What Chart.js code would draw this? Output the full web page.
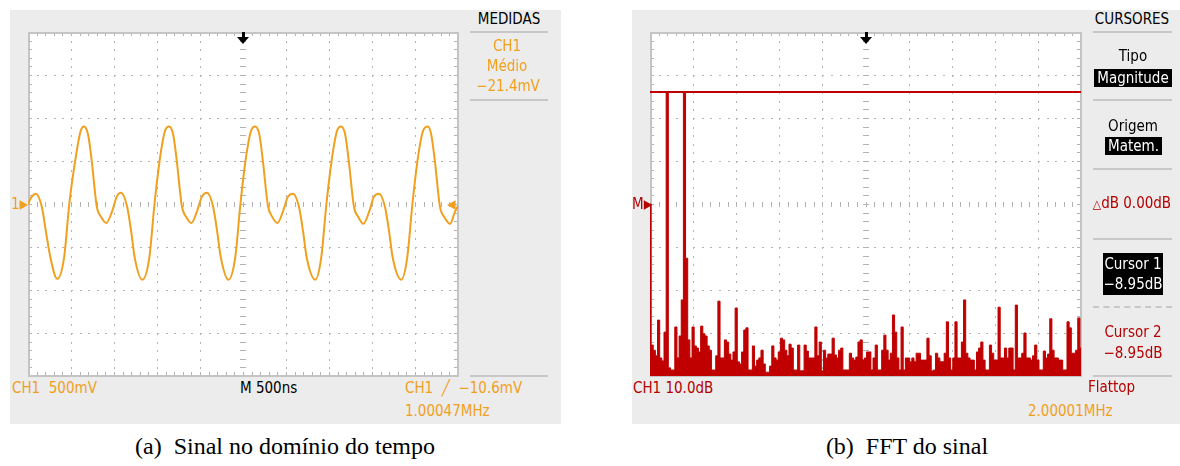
<!DOCTYPE html>
<html lang="pt">
<head>
<meta charset="UTF-8">
<script src="https://cdn.jsdelivr.net/npm/chart.js"></script>
<title>Sinal e FFT</title>
<style>
  body { margin: 0; width: 1180px; height: 466px; overflow: hidden; background: #fff; position: relative; }
  .panel { position: absolute; top: 10px; height: 414px; background: #ececec; }
  canvas { position: absolute; background: #fff; }
  .t { position: absolute; font-family: 'DejaVu Sans Condensed', 'DejaVu Sans', sans-serif; font-stretch: condensed;
       font-size: 15px; line-height: 16px; white-space: nowrap; }
  .c { text-align: center; }
  .or { color: #f0a01e; }
  .rd { color: #b40000; }
  .hr { position: absolute; height: 2px; background: #c8c8c8; }
  .box { position: absolute; background: #000; color: #fff; text-align: center; }
  .trig { position: absolute; width: 12px; height: 12px; }
  .trig:before { content: ''; position: absolute; left: 5px; top: 0; width: 3px; height: 6px; background: #000; }
  .trig:after { content: ''; position: absolute; left: 0; top: 5px; border-left: 6px solid transparent;
                border-right: 6px solid transparent; border-top: 7px solid #000; }
  .cap { position: absolute; width: 500px; text-align: center; font-family: 'Liberation Serif', serif;
         font-size: 24px; line-height: 26px; color: #000; }
  .arr { font-size: 19px; vertical-align: -1px; }
</style>
</head>
<body>
<div class="panel" style="left:10px;width:551px"></div>
<div class="panel" style="left:632px;width:551px"></div>

<canvas id="scope" width="431" height="345" style="left:28px;top:32px"></canvas>
<canvas id="fft" width="432" height="345" style="left:650px;top:32px"></canvas>

<!-- painel (a) -->
<div class="t c" style="left:449px;width:120px;top:11px">MEDIDAS</div>
<div class="hr" style="left:470px;width:78px;top:31px"></div>
<div class="t c or" style="left:447px;width:120px;top:38px">CH1</div>
<div class="t c or" style="left:447px;width:120px;top:58px">Médio</div>
<div class="t c or" style="left:448px;width:120px;top:78px">−21.4mV</div>
<div class="hr" style="left:470px;width:78px;top:99px"></div>
<div class="hr" style="left:470px;width:78px;top:375px"></div>
<div class="t or" style="left:12px;top:380px">CH1&nbsp;&nbsp;500mV</div>
<div class="t" style="left:240px;top:380px">M 500ns</div>
<div class="t or" style="left:405px;top:380px">CH1&nbsp;&nbsp;╱&nbsp;&nbsp;−10.6mV</div>
<div class="t or" style="left:405px;top:403px">1.00047MHz</div>
<div class="t or" style="left:11px;top:195px">1<span class="arr">▸</span></div>
<div class="t or" style="left:447px;top:195px"><span class="arr">◂</span></div>
<div class="trig" style="left:237px;top:32px"></div>

<!-- painel (b) -->
<div class="t c" style="left:1072px;width:120px;top:11px">CURSORES</div>
<div class="hr" style="left:1093px;width:79px;top:31px"></div>
<div class="t c" style="left:1073px;width:120px;top:48px">Tipo</div>
<div class="box t" style="left:1094px;width:78px;top:69px;height:18px;line-height:18px">Magnitude</div>
<div class="hr" style="left:1093px;width:79px;top:99px"></div>
<div class="t c" style="left:1073px;width:120px;top:118px">Origem</div>
<div class="box t" style="left:1105px;width:57px;top:137px;height:18px;line-height:18px">Matem.</div>
<div class="hr" style="left:1093px;width:79px;top:168px"></div>
<div class="t c rd" style="left:1072px;width:120px;top:195px"><span style="font-size:12px">△</span>dB 0.00dB</div>
<div class="hr" style="left:1093px;width:79px;top:238px"></div>
<div class="box t" style="left:1103px;width:60px;top:253px;height:42px;line-height:20px;padding-top:1px;box-sizing:border-box">Cursor 1<br>−8.95dB</div>
<div style="position:absolute;left:1093px;width:79px;top:306px;border-top:2px dashed #c8c8c8"></div>
<div class="t c rd" style="left:1073px;width:120px;top:324px">Cursor 2</div>
<div class="t c rd" style="left:1073px;width:120px;top:345px">−8.95dB</div>
<div class="hr" style="left:1093px;width:79px;top:375px"></div>
<div class="t rd" style="left:1088px;top:379px">Flattop</div>
<div class="t or" style="left:1028px;top:403px">2.00001MHz</div>
<div class="t rd" style="left:633px;top:380px">CH1 10.0dB</div>
<div class="t rd" style="left:632px;top:195px">M<span class="arr">▸</span></div>
<div class="trig" style="left:860px;top:32px"></div>

<div class="cap" style="left:35px;top:433px">(a)&nbsp; Sinal no domínio do tempo</div>
<div class="cap" style="left:657px;top:433px">(b)&nbsp; FFT do sinal</div>

<script>
// CH1, 500 mV/div, 500 ns/div
const timeUs = [
  0.00, 0.04,
  0.09, 0.16, 0.21, 0.26, 0.34, 0.42, 0.48, 0.55, 0.61, 0.65, 0.70, 0.74, 0.80, 0.85, 0.91, 0.98, 1.03,
  1.08, 1.15, 1.20, 1.24, 1.33, 1.41, 1.47, 1.53, 1.59, 1.64, 1.69, 1.73, 1.79, 1.84, 1.90, 1.97, 2.02,
  2.08, 2.15, 2.20, 2.24, 2.33, 2.41, 2.47, 2.53, 2.59, 2.64, 2.69, 2.73, 2.79, 2.84, 2.90, 2.97, 3.02,
  3.08, 3.15, 3.20, 3.24, 3.34, 3.41, 3.47, 3.53, 3.59, 3.64, 3.69, 3.73, 3.79, 3.84, 3.90, 3.97, 4.02,
  4.08, 4.15, 4.20, 4.24, 4.34, 4.41, 4.47, 4.53, 4.59, 4.65, 4.69, 4.73, 4.79, 4.84, 4.91, 4.96, 5.00
];
const ch1Volts = [
  0.00, 0.08,
  0.12, -0.03, -0.33, -0.62, -0.87, -0.62, 0.00, 0.51, 0.84, 0.90, 0.80, 0.51, -0.03, -0.15, -0.22, -0.08, 0.08,
  0.13, -0.02, -0.32, -0.62, -0.88, -0.63, -0.01, 0.50, 0.84, 0.90, 0.80, 0.50, -0.03, -0.15, -0.22, -0.07, 0.08,
  0.13, -0.02, -0.32, -0.61, -0.88, -0.62, 0.00, 0.51, 0.84, 0.90, 0.81, 0.51, -0.02, -0.15, -0.22, -0.07, 0.08,
  0.12, -0.03, -0.33, -0.62, -0.88, -0.62, 0.00, 0.50, 0.84, 0.90, 0.80, 0.50, -0.03, -0.15, -0.23, -0.08, 0.08,
  0.12, -0.03, -0.33, -0.62, -0.88, -0.62, 0.00, 0.51, 0.84, 0.90, 0.80, 0.51, -0.03, -0.15, -0.23, -0.10, -0.02
];

// FFT, 10 dB/div, 2.5 MHz/div, one bin every 0.125 MHz
const binMHz = 0.125;
const fftDb = [
  -35.0, -67.8, -69.0, -70.3, -62.0, -70.8, -71.5, -64.8, -8.95, -73.1,
  -73.6, -73.6, -63.6, -70.8, -65.7, -57.3, -8.95, -47.6, -66.6, -70.8,
  -63.6, -68.0, -68.5, -69.4, -63.4, -65.2, -65.7, -68.0, -69.0, -73.6,
  -73.6, -70.3, -57.6, -70.8, -70.8, -66.6, -67.1, -69.9, -71.3, -69.4,
  -59.2, -71.7, -72.2, -69.4, -64.3, -63.8, -73.6, -73.6, -68.0, -72.7,
  -71.3, -70.8, -69.0, -72.2, -74.1, -74.1, -72.7, -68.0, -70.8, -71.3,
  -69.4, -66.2, -66.6, -69.0, -70.3, -67.6, -68.5, -73.6, -73.6, -67.8,
  -73.8, -73.8, -67.8, -69.2, -70.8, -70.8, -70.8, -63.6, -70.3, -67.1,
  -73.8, -69.0, -70.8, -69.9, -69.9, -66.2, -70.1, -70.8, -69.0, -68.5,
  -73.6, -73.6, -73.6, -69.7, -70.8, -71.3, -70.6, -67.1, -66.6, -71.3,
  -70.8, -69.4, -69.4, -73.6, -70.8, -67.8, -73.6, -73.6, -69.0, -65.5,
  -69.0, -71.3, -69.7, -60.8, -64.8, -70.8, -73.6, -63.6, -73.6, -70.8,
  -70.8, -71.7, -70.8, -71.7, -69.7, -69.7, -71.3, -71.3, -71.3, -66.2,
  -70.3, -73.8, -73.6, -69.7, -70.8, -71.7, -71.7, -69.7, -62.4, -70.8,
  -73.6, -70.8, -62.4, -70.8, -70.8, -67.1, -57.3, -69.7, -70.8, -71.3,
  -71.3, -73.6, -69.4, -68.5, -67.1, -71.3, -73.6, -73.6, -67.8, -69.7,
  -71.3, -71.3, -59.0, -70.8, -70.8, -68.5, -70.8, -68.5, -68.5, -73.6,
  -58.5, -70.8, -70.8, -69.7, -65.0, -70.8, -70.8, -71.3, -70.3, -67.8,
  -71.3, -73.6, -73.6, -69.2, -70.8, -69.9, -61.7, -69.0, -70.8, -70.8,
  -71.3, -71.3, -73.6, -73.6, -62.4, -63.8, -69.7, -69.7, -69.0, -61.5,
  -68.5
];
const cursorDb = -8.95;

const ORANGE = '#f0a01e';
const RED = '#c00000';

// oscilloscope graticule: 10 x 8 divisions, 5 marks per division
const graticule = {
  id: 'graticule',
  beforeDatasetsDraw(chart) {
    const { ctx, chartArea: a } = chart;
    const w = a.right - a.left, h = a.bottom - a.top;
    const dx = w / 10, dy = h / 8;
    const cx = Math.round(a.left + w / 2), cy = Math.round(a.top + h / 2);
    ctx.save();
    ctx.fillStyle = '#b2b2b2';
    for (let i = 1; i < 10; i++) {
      if (i === 5) continue;
      const x = Math.round(a.left + i * dx);
      for (let j = 1; j < 40; j++) ctx.fillRect(x, Math.round(a.top + j * dy / 5), 1, 2);
    }
    for (let i = 1; i < 8; i++) {
      if (i === 4) continue;
      const y = Math.round(a.top + i * dy);
      for (let j = 1; j < 50; j++) ctx.fillRect(Math.round(a.left + j * dx / 5), y, 2, 1);
    }
    for (let j = 1; j < 50; j++) {
      const x = Math.round(a.left + j * dx / 5);
      ctx.fillRect(x, cy - 2, 1, 5);
      ctx.fillRect(x, a.top, 1, 4);
      ctx.fillRect(x, a.bottom - 4, 1, 4);
    }
    for (let j = 1; j < 40; j++) {
      const y = Math.round(a.top + j * dy / 5);
      ctx.fillRect(cx - 3, y, 6, 1);
      ctx.fillRect(a.left, y, 4, 1);
      ctx.fillRect(a.right - 4, y, 4, 1);
    }
    ctx.strokeStyle = '#c4c4c4';
    ctx.lineWidth = 2;
    ctx.strokeRect(a.left + 1, a.top + 1, w - 1, h - 1);
    ctx.restore();
  }
};

const baseOptions = (xMax, yMin, yMax) => ({
  responsive: false,
  animation: false,
  layout: { padding: { right: 1, bottom: 1 } },
  plugins: { legend: { display: false }, tooltip: { enabled: false } },
  scales: {
    x: { type: 'linear', min: 0, max: xMax, display: false },
    y: { type: 'linear', min: yMin, max: yMax, display: false }
  }
});

new Chart(document.getElementById('scope'), {
  type: 'line',
  data: {
    datasets: [{
      data: timeUs.map((t, i) => ({ x: t, y: ch1Volts[i] })),
      borderColor: ORANGE,
      borderWidth: 2,
      pointRadius: 0,
      cubicInterpolationMode: 'monotone'
    }]
  },
  options: baseOptions(5, -2, 2),
  plugins: [graticule]
});

new Chart(document.getElementById('fft'), {
  type: 'line',
  data: {
    datasets: [{
      data: [{ x: 0, y: cursorDb }, { x: 25, y: cursorDb }],
      borderColor: RED,
      borderWidth: 2,
      pointRadius: 0
    }, {
      data: fftDb.map((v, i) => ({ x: i * binMHz, y: v })),
      borderColor: RED,
      backgroundColor: RED,
      borderWidth: 1,
      pointRadius: 0,
      stepped: 'middle',
      fill: 'start'
    }]
  },
  options: baseOptions(25, -75, 5),
  plugins: [graticule]
});
</script>
</body>
</html>
